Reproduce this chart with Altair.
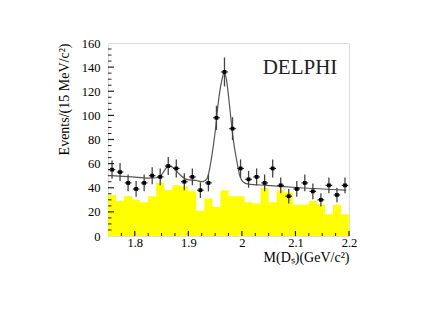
import altair as alt
import pandas as pd

# ---- data ----
bin_centers = [1.7575, 1.7725, 1.7875, 1.8025, 1.8175, 1.8325, 1.8475, 1.8625, 1.8775, 1.8925,
               1.9075, 1.9225, 1.9375, 1.9525, 1.9675, 1.9825, 1.9975, 2.0125, 2.0275, 2.0425,
               2.0575, 2.0725, 2.0875, 2.1025, 2.1175, 2.1325, 2.1475, 2.1625, 2.1775, 2.1925]
events = [55, 53, 44, 39, 44, 50, 49, 58, 56, 45,
          49, 38, 44, 98, 136, 89, 56, 47, 49, 44,
          56, 42, 33, 39, 44, 37, 30, 42, 34, 42]
errors = [7.5, 7.5, 7, 6.5, 7, 7, 7, 7.5, 7.5, 7,
          7, 6.5, 7, 10, 12, 9.5, 7.5, 7, 7, 7,
          7.5, 6.5, 6, 6.5, 7, 6.5, 5.5, 6.5, 6, 6.5]
background = [34, 29, 33, 30, 28, 33, 44, 38, 42, 41,
              37, 21, 31, 24, 38, 33, 33, 28, 27, 40,
              28, 38, 36, 26, 26, 29, 26, 18, 26, 18]
half_bin = 0.0075
xerr = 0.0062

fit_x = [1.757, 1.795, 1.826, 1.845, 1.855, 1.862, 1.871, 1.884, 1.897, 1.915,
         1.927, 1.935, 1.943, 1.950, 1.956, 1.963, 1.967, 1.971, 1.977, 1.983,
         1.991, 1.996, 2.002, 2.012, 2.046, 2.108, 2.195]
fit_y = [50, 49, 48, 48.5, 54, 58, 57, 51, 47, 46,
         45, 47.5, 64, 86, 111, 130, 136, 130, 108, 83,
         61, 50, 45, 43, 42, 40, 38]

x_major = [1.8, 1.9, 2.0, 2.1, 2.2]
x_minor = [1.775, 1.825, 1.85, 1.875, 1.925, 1.95, 1.975, 2.025, 2.05, 2.075, 2.125, 2.15, 2.175]
y_labels = [0, 20, 40, 60, 80, 100, 120, 140, 160]
y_major = [20, 40, 60, 80, 100, 120, 140]
y_minor = [5, 10, 15, 25, 30, 35, 45, 50, 55, 65, 70, 75, 85, 90, 95, 105, 110, 115,
           125, 130, 135, 145, 150, 155]

W, H = 241, 193
FONT = "Liberation Serif"

pts = pd.DataFrame({"x": bin_centers, "y": events, "e": errors})
pts["lo"] = pts["y"] - pts["e"]
pts["hi"] = pts["y"] + pts["e"]
pts["xl"] = pts["x"] - xerr
pts["xh"] = pts["x"] + xerr

# step histogram: left edges of every bin plus the final right edge
edges = [c - half_bin for c in bin_centers] + [bin_centers[-1] + half_bin]
hist = pd.DataFrame({"x": edges, "y": background + [background[-1]]})
fit = pd.DataFrame({"x": fit_x, "y": fit_y})

xs = alt.Scale(domain=[1.75, 2.2], nice=False, zero=False)
ys = alt.Scale(domain=[0, 160], nice=False)

xaxis = alt.Axis(values=x_major, format="~g", ticks=False, domain=False, grid=False,
                 labelOverlap=False, labelFlush=False,
                 labelFont=FONT, labelFontSize=12.5, labelColor="black", labelPadding=0,
                 labelBaseline="top",
                 title="M(Dₛ)(GeV/c²)", titleFont=FONT, titleFontSize=14, titleFontWeight="normal",
                 titleColor="black", titleAnchor="end", titleAlign="right", titlePadding=2)
yaxis = alt.Axis(values=y_labels, ticks=False, domain=False, grid=False, labelOverlap=False,
                 labelFlush=False,
                 labelFont=FONT, labelFontSize=12.5, labelColor="black", labelPadding=8,
                 title="Events/(15 MeV/c²)", titleFont=FONT, titleFontSize=14,
                 titleFontWeight="normal", titleColor="black", titleAnchor="end",
                 titleAlign="right", titlePadding=10)


def X(f):
    return alt.X(f, scale=xs, axis=xaxis)


def Y(f):
    return alt.Y(f, scale=ys, axis=yaxis)


base = alt.Chart(pts)

bars = alt.Chart(hist).mark_area(color="#ffff00", interpolate="step-after", opacity=1).encode(
    x=X("x:Q"), y=Y("y:Q"), y2=alt.datum(0))

curve = alt.Chart(fit).mark_line(color="#555555", strokeWidth=1.2, interpolate="monotone").encode(
    x=X("x:Q"), y=Y("y:Q"))

verr = base.mark_rule(color="#444444", strokeWidth=1.3).encode(
    x=X("x:Q"), y=Y("lo:Q"), y2="hi:Q")
herr = base.mark_rule(color="#222222", strokeWidth=1.2).encode(
    x=X("xl:Q"), x2="xh:Q", y=Y("y:Q"))
dots = base.mark_square(color="black", size=14, opacity=1).encode(
    x=X("x:Q"), y=Y("y:Q"))

xt_major = alt.Chart(pd.DataFrame({"v": x_major})).mark_rule(color="#222", strokeWidth=1.2).encode(
    x=X("v:Q"), y=alt.value(H), y2=alt.value(H - 5))
xt_minor = alt.Chart(pd.DataFrame({"v": x_minor})).mark_rule(color="#222", strokeWidth=1).encode(
    x=X("v:Q"), y=alt.value(H), y2=alt.value(H - 3))
yt_major = alt.Chart(pd.DataFrame({"v": y_major})).mark_rule(color="#222", strokeWidth=1.2).encode(
    y=Y("v:Q"), x=alt.value(0), x2=alt.value(6))
yt_minor = alt.Chart(pd.DataFrame({"v": y_minor})).mark_rule(color="#222", strokeWidth=1).encode(
    y=Y("v:Q"), x=alt.value(0), x2=alt.value(3.5))

label = alt.Chart(pd.DataFrame({"t": ["DELPHI"]})).mark_text(
    font=FONT, fontSize=21, color="#222", align="center", baseline="middle").encode(
    text="t:N", x=alt.value(192), y=alt.value(25))

chart = alt.layer(bars, curve, verr, herr, dots, xt_major, xt_minor, yt_major, yt_minor, label).properties(
    width=W, height=H,
    autosize=alt.AutoSizeParams(type="none"),
    padding={"left": 100, "top": 35, "right": 70, "bottom": 80},
).configure_view(stroke="#333333", strokeWidth=1.3).configure(background="white")

chart.save("out.html", embed_options={"renderer": "svg", "actions": False})
